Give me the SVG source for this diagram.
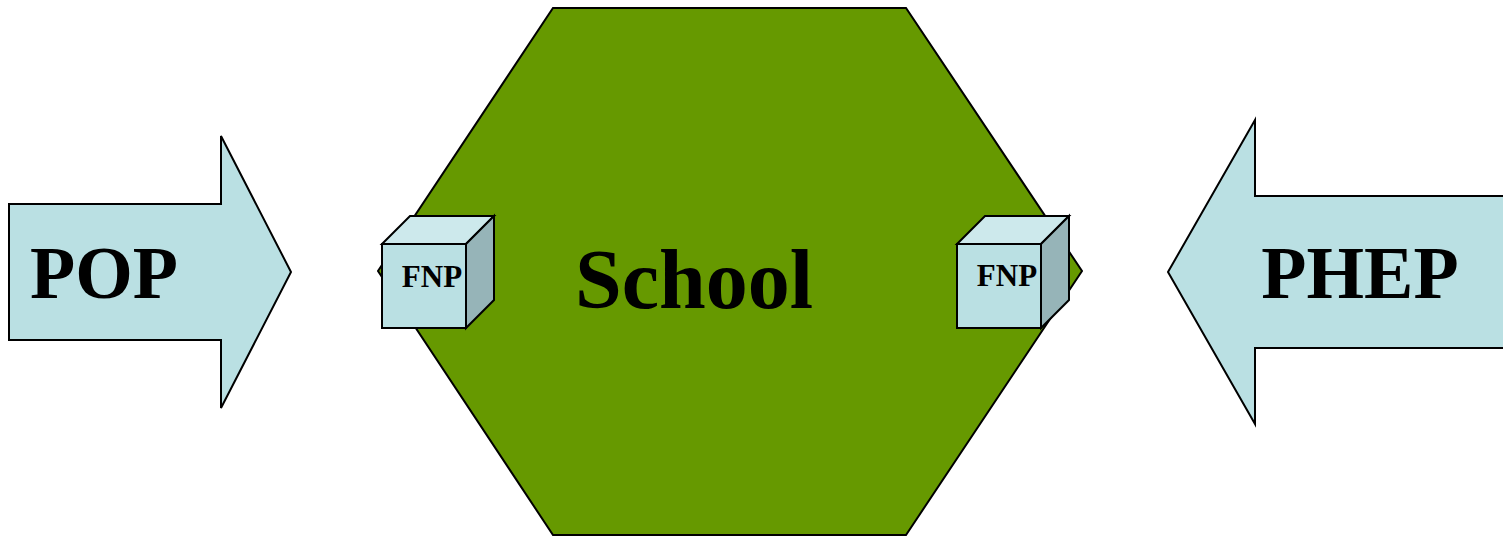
<svg xmlns="http://www.w3.org/2000/svg" width="1503" height="536" viewBox="0 0 1503 536">
<style>
.ln{stroke:#000;stroke-width:2;stroke-linejoin:miter}
.arr{fill:#BAE0E3}
.front{fill:#BAE0E3}
.top{fill:#CDE9EC}
.side{fill:#96B4B8}
.t{font-family:"Liberation Serif",serif;font-weight:bold;fill:#000}
</style>
<rect width="1503" height="536" fill="#fff"/>
<g id="school">
<polygon class="ln" fill="#669900" points="553,8 906,8 1082,271 906,535 553,535 378,271"/>
<text class="t" x="694" y="308" font-size="84" text-anchor="middle">School</text>
</g>
<g id="pop">
<polygon class="ln arr" points="9,204 221,204 221,136 291,272 221,408 221,340 9,340"/>
<text class="t" x="104" y="298" font-size="74" text-anchor="middle">POP</text>
</g>
<g id="phep">
<polygon class="ln arr" points="1504,196 1255,196 1255,120 1168,272 1255,424 1255,348 1504,348"/>
<text class="t" x="1360" y="298" font-size="74" text-anchor="middle">PHEP</text>
</g>
<g id="fnp-left">
<polygon class="ln top" points="382,244 410,216 494,216 466,244"/>
<polygon class="ln side" points="466,244 494,216 494,300 466,328"/>
<rect class="ln front" x="382" y="244" width="84" height="84"/>
<text class="t" x="432" y="287" font-size="31" text-anchor="middle">FNP</text>
</g>
<g id="fnp-right">
<polygon class="ln top" points="957,244 985,216 1069,216 1041,244"/>
<polygon class="ln side" points="1041,244 1069,216 1069,300 1041,328"/>
<rect class="ln front" x="957" y="244" width="84" height="84"/>
<text class="t" x="1007" y="286" font-size="31" text-anchor="middle">FNP</text>
</g>
<g id="connectors"/>
</svg>
